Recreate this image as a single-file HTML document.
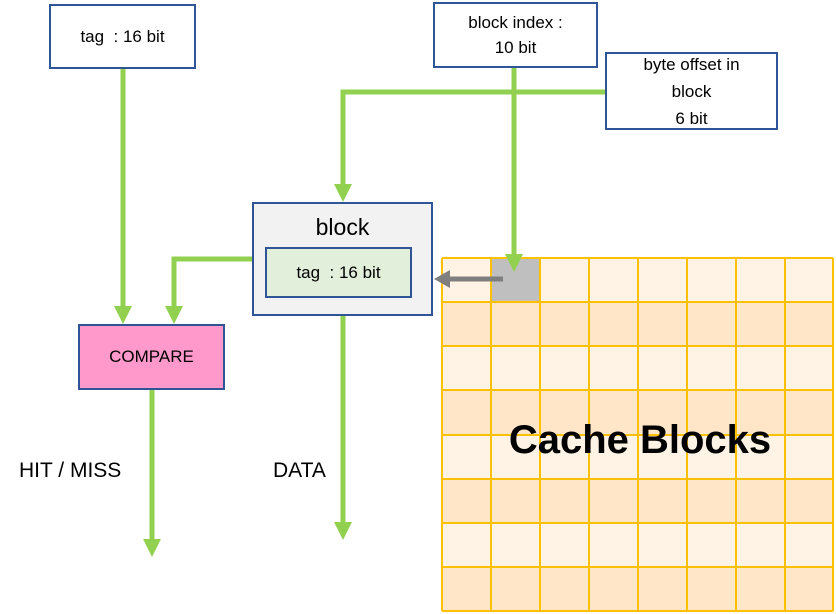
<!DOCTYPE html>
<html><head><style>
body{margin:0;width:836px;height:614px;background:#fff;position:relative;overflow:hidden;font-family:"Liberation Sans",sans-serif;}
.b{position:absolute;box-sizing:border-box;border:2px solid #2F5597;display:flex;align-items:center;justify-content:center;text-align:center;color:#000;}
.t{position:absolute;color:#000;}
</style></head><body>
<svg width="836" height="614" style="position:absolute;left:0;top:0">
<g>
<rect x="442" y="258" width="391" height="353" fill="#FFF3E5"/>
<rect x="442" y="302" width="391" height="44" fill="#FFE6C9"/>
<rect x="442" y="390" width="391" height="45" fill="#FFE6C9"/>
<rect x="442" y="479" width="391" height="44" fill="#FFE6C9"/>
<rect x="442" y="567" width="391" height="44" fill="#FFE6C9"/>
<rect x="491" y="258" width="49" height="44" fill="#BFBFBF"/>
<g stroke="#FFC000" stroke-width="2">
<line x1="442" y1="258" x2="442" y2="611"/><line x1="491" y1="258" x2="491" y2="611"/><line x1="540" y1="258" x2="540" y2="611"/><line x1="589" y1="258" x2="589" y2="611"/><line x1="638" y1="258" x2="638" y2="611"/><line x1="687" y1="258" x2="687" y2="611"/><line x1="736" y1="258" x2="736" y2="611"/><line x1="785" y1="258" x2="785" y2="611"/><line x1="833" y1="258" x2="833" y2="611"/>
<line x1="442" y1="258" x2="833" y2="258"/><line x1="442" y1="302" x2="833" y2="302"/><line x1="442" y1="346" x2="833" y2="346"/><line x1="442" y1="390" x2="833" y2="390"/><line x1="442" y1="435" x2="833" y2="435"/><line x1="442" y1="479" x2="833" y2="479"/><line x1="442" y1="523" x2="833" y2="523"/><line x1="442" y1="567" x2="833" y2="567"/><line x1="442" y1="611" x2="833" y2="611"/>
</g>
</g>
<g stroke="#92D050" stroke-width="5" fill="none">
<polyline points="123,69 123,308"/>
<polyline points="252,259 174,259 174,308"/>
<polyline points="605,92 343,92 343,186"/>
<polyline points="514,68 514,256"/>
<polyline points="343,316 343,524"/>
<polyline points="152,390 152,541"/>
</g>
<g fill="#92D050">
<polygon points="114,306 132,306 123,324"/>
<polygon points="165,306 183,306 174,324"/>
<polygon points="334,184 352,184 343,202"/>
<polygon points="505,254 523,254 514,272"/>
<polygon points="334,522 352,522 343,540"/>
<polygon points="143,539 161,539 152,557"/>
</g>
<line x1="503" y1="279" x2="448" y2="279" stroke="#7F7F7F" stroke-width="5"/>
<polygon points="450,270 450,288 434,279" fill="#7F7F7F"/>
</svg>
<div class="b" style="left:49px;top:4px;width:147px;height:65px;font-size:17px;">tag &nbsp;: 16 bit</div>
<div class="b" style="left:433px;top:2px;width:165px;height:66px;font-size:17px;line-height:25px;">block index :<br>10 bit</div>
<div class="b" style="left:605px;top:52px;width:173px;height:78px;font-size:17px;line-height:27px;background:#fff;">byte offset in<br>block<br>6 bit</div>
<div class="b" style="left:252px;top:202px;width:181px;height:114px;background:#F2F2F2;align-items:flex-start;padding-top:10px;font-size:23px;">block</div>
<div class="b" style="left:265px;top:247px;width:147px;height:51px;background:#E2EFDA;font-size:17px;">tag &nbsp;: 16 bit</div>
<div class="b" style="left:78px;top:324px;width:147px;height:66px;background:#FF99CC;font-size:17px;">COMPARE</div>
<div class="t" style="left:19px;top:459px;font-size:21px;">HIT / MISS</div>
<div class="t" style="left:273px;top:459px;font-size:21px;">DATA</div>
<div class="t" style="left:442px;top:418px;width:396px;text-align:center;font-size:40px;font-weight:bold;">Cache Blocks</div>
</body></html>
